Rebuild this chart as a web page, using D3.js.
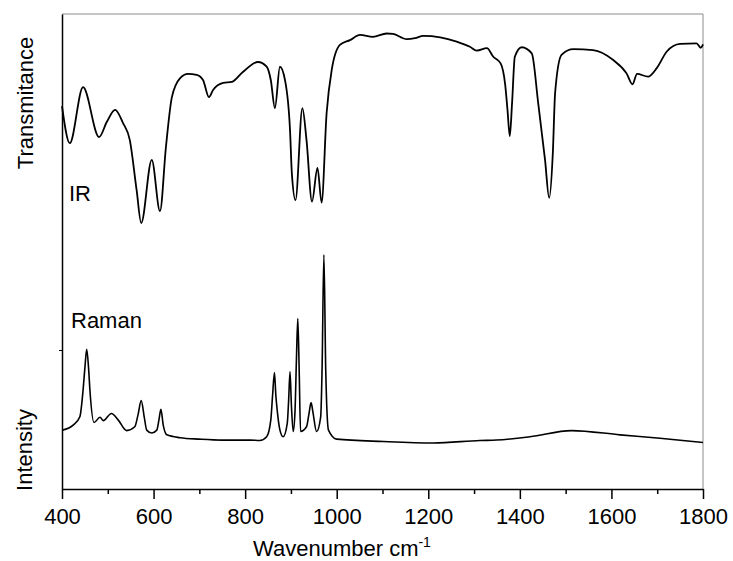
<!DOCTYPE html>
<html>
<head>
<meta charset="utf-8">
<script src="https://cdn.jsdelivr.net/npm/d3@7"></script>
<style>
  body { margin: 0; background: #fff; }
  svg { font-family: "Liberation Sans", Arial, sans-serif; }
</style>
</head>
<body>
<svg id="chart" width="733" height="561"></svg>
<script>
// IR spectrum (transmittance, offset units)
const irWavenumber = [400, 417, 446, 481, 498, 516, 533, 548, 563, 573, 596, 614, 627, 640, 658, 675, 694, 708, 721, 730, 752, 771, 795, 828, 847, 856, 865, 876, 887, 898, 902, 910, 925, 934, 946, 958, 967, 978, 989, 1007, 1029, 1051, 1079, 1109, 1123, 1153, 1171, 1189, 1226, 1262, 1291, 1306, 1328, 1342, 1358, 1368, 1373, 1378, 1383, 1389, 1404, 1426, 1440, 1455, 1464, 1472, 1477, 1491, 1517, 1560, 1604, 1633, 1646, 1656, 1680, 1699, 1721, 1750, 1786, 1795, 1800];
const irValue = [80.6, 72.8, 84.6, 74.1, 77.3, 79.8, 77.1, 73.5, 62.9, 56.0, 69.3, 58.5, 72.0, 82.5, 86.5, 87.4, 87.2, 86.1, 82.5, 84.0, 85.5, 85.7, 87.8, 89.9, 88.9, 86.1, 80.2, 88.9, 86.1, 75.6, 66.5, 60.8, 80.2, 73.5, 60.5, 67.6, 60.3, 79.2, 88.2, 93.5, 94.5, 95.6, 95.2, 95.9, 95.8, 94.7, 94.9, 95.4, 95.1, 94.2, 93.1, 92.3, 92.8, 91.0, 89.6, 85.1, 79.8, 74.3, 81.3, 91.0, 93.0, 91.7, 81.3, 69.3, 61.3, 70.7, 83.4, 91.4, 92.6, 92.4, 90.3, 87.5, 85.2, 87.4, 86.8, 88.6, 92.1, 93.7, 93.8, 92.9, 93.6];

// Raman spectrum (intensity, offset units)
const ramanWavenumber = [401, 425, 439, 446, 450, 454, 458, 461, 470, 483, 490, 508, 523, 541, 559, 566, 573, 580, 585, 596, 607, 612, 616, 621, 629, 658, 700, 750, 811, 832, 847, 856, 860, 864, 867, 870, 876, 883, 892, 895, 898, 901, 905, 909, 912, 915, 918, 921, 934, 940, 944, 948, 956, 965, 968, 972, 976, 982, 1000, 1102, 1211, 1313, 1349, 1422, 1513, 1619, 1706, 1800];
const ramanValue = [12.4, 13.5, 15.2, 20.8, 25.5, 29.4, 25.5, 20.8, 14.0, 15.1, 14.4, 15.9, 14.5, 12.3, 13.1, 15.6, 18.6, 14.9, 12.4, 11.8, 12.4, 14.7, 16.8, 13.5, 11.4, 10.8, 10.5, 10.3, 10.3, 10.2, 11.0, 14.5, 19.8, 24.5, 19.8, 16.6, 12.4, 11.0, 13.8, 18.7, 24.7, 17.7, 12.1, 16.6, 27.2, 35.9, 25.1, 12.1, 13.1, 16.2, 18.2, 16.2, 12.1, 15.2, 25.1, 49.3, 25.1, 12.4, 10.5, 10.0, 9.7, 10.2, 10.3, 11.0, 12.3, 11.4, 10.7, 9.8];

const majorTicks = [400, 600, 800, 1000, 1200, 1400, 1600, 1800];
const minorTicks = [500, 700, 900, 1100, 1300, 1500, 1700];

const margin = { left: 62, right: 30, top: 14, bottom: 72 };
const svg = d3.select('#chart');
const width = 733 - margin.left - margin.right;
const height = 561 - margin.top - margin.bottom;

const x = d3.scaleLinear().domain([400, 1800]).range([0, width]);
const y = d3.scaleLinear().domain([0, 100]).range([height, 0]);

const g = svg.append('g').attr('transform', `translate(${margin.left},${margin.top})`);

// frame: grey top and right
g.append('line').attr('x1', 0).attr('x2', width).attr('y1', 0).attr('y2', 0)
    .attr('stroke', '#8c8c8c').attr('stroke-width', 1);
g.append('line').attr('x1', width).attr('x2', width).attr('y1', 0).attr('y2', height)
    .attr('stroke', '#8c8c8c').attr('stroke-width', 1);

const line = d3.line().x(d => x(d[0])).y(d => y(d[1])).curve(d3.curveMonotoneX);

g.append('path')
    .datum(d3.zip(irWavenumber, irValue))
    .attr('d', line)
    .attr('fill', 'none').attr('stroke', '#000').attr('stroke-width', 1.8);

g.append('path')
    .datum(d3.zip(ramanWavenumber, ramanValue))
    .attr('d', line)
    .attr('fill', 'none').attr('stroke', '#000').attr('stroke-width', 1.6);

// axes
const xMinor = g.append('g').attr('transform', `translate(0,${height})`)
    .call(d3.axisBottom(x).tickValues(minorTicks).tickSize(5).tickFormat(''));
xMinor.select('.domain').remove();

const xAxis = g.append('g').attr('transform', `translate(0,${height})`)
    .call(d3.axisBottom(x).tickValues(majorTicks).tickSize(10).tickSizeOuter(0)
        .tickPadding(9).tickFormat(d3.format('d')));
xAxis.selectAll('text').attr('font-size', 22).attr('fill', '#000')
    .attr('font-family', '"Liberation Sans", Arial, sans-serif');

g.selectAll('.tick line').attr('stroke', '#000').attr('stroke-width', 1.5);
xAxis.select('.domain').attr('stroke', '#000').attr('stroke-width', 1.5);

const yAxis = g.append('g')
    .call(d3.axisLeft(y).tickValues([y.invert(336)]).tickSize(3).tickSizeOuter(0).tickFormat(''));
yAxis.select('.domain').attr('stroke', '#000').attr('stroke-width', 1.5);
yAxis.selectAll('.tick line').attr('stroke', '#000').attr('stroke-width', 1);

// labels
g.append('text').attr('x', 7).attr('y', 186.5).attr('font-size', 22).text('IR');
g.append('text').attr('x', 9).attr('y', 314).attr('font-size', 22).text('Raman');

svg.append('text')
    .attr('transform', 'translate(33,103) rotate(-90)')
    .attr('text-anchor', 'middle').attr('font-size', 22).text('Transmitance');
svg.append('text')
    .attr('transform', 'translate(32,450) rotate(-90)')
    .attr('text-anchor', 'middle').attr('font-size', 22).text('Intensity');

const title = svg.append('text').attr('x', 253).attr('y', 556).attr('font-size', 22);
title.append('tspan').text('Wavenumber cm');
title.append('tspan').attr('font-size', 14).attr('dy', -9).text('-1');
</script>
</body>
</html>
